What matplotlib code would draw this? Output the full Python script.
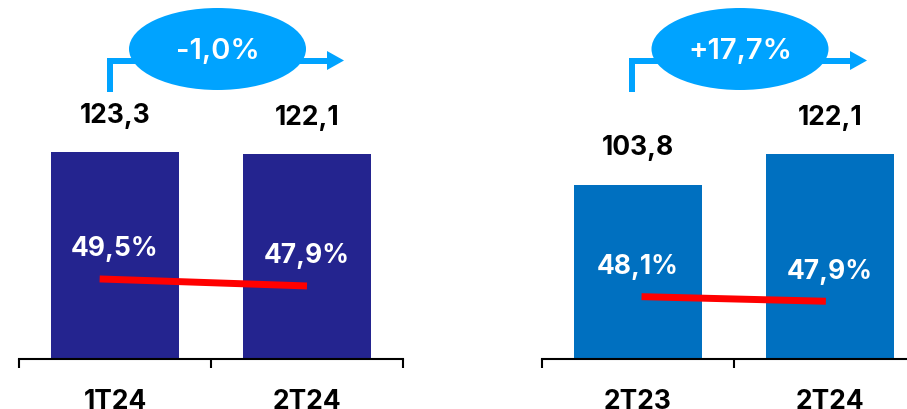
import matplotlib
matplotlib.use("Agg")
import matplotlib.pyplot as plt
from matplotlib.patches import Ellipse, Polygon
from matplotlib.lines import Line2D

# ---- data ----
left_categories = ["1T24", "2T24"]
left_values = [123.3, 122.1]
left_labels = ["123,3", "122,1"]
left_margin = [49.5, 47.9]
left_margin_labels = ["49,5%", "47,9%"]
left_change = "-1,0%"

right_categories = ["2T23", "2T24"]
right_values = [103.8, 122.1]
right_labels = ["103,8", "122,1"]
right_margin = [48.1, 47.9]
right_margin_labels = ["48,1%", "47,9%"]
right_change = "+17,7%"

# ---- style ----
W, H = 907, 410
FONT = ["Inter", "DejaVu Sans"]
NAVY = "#24248f"
BLUE = "#0070c0"
LIGHT = "#00a3ff"
RED = "#ff0000"

plt.rcParams["font.family"] = FONT

fig = plt.figure(figsize=(W / 100, H / 100), dpi=100)


def fx(px):
    return px / W


def fy(py):
    return 1 - py / H


def panel(left_px, cats, vals, labels, margins, mlabels, color, m_ylim, line_x):
    width_px = 2 * 192.0
    ax = fig.add_axes([fx(left_px), fy(360), width_px / W, 360 / H])
    x = list(range(len(cats)))
    ax.bar(x, vals, width=0.665, color=color, zorder=2)
    ax.set_xlim(-0.5, 1.5)
    ax.set_ylim(0, 360 / 1.678)
    for s in ["top", "left", "right"]:
        ax.spines[s].set_visible(False)
    ax.spines["bottom"].set_linewidth(1.5)
    ax.set_yticks([])
    ax.set_xticks(x)
    ax.set_xticklabels(cats, fontsize=19, fontweight="bold")
    ax.tick_params(axis="x", which="major", length=0, pad=21)
    ax.set_xticks([-0.5, 0.5, 1.5], minor=True)
    ax.tick_params(axis="x", which="minor", length=6.5, width=1.5, direction="out")
    for xi, v, lab in zip(x, vals, labels):
        ax.annotate(lab, (xi, v), xytext=(0, 27), textcoords="offset points",
                    ha="center", va="center", fontsize=19, fontweight="bold",
                    color="black")
    ax2 = ax.twinx()
    ax2.set_ylim(*m_ylim)
    ax2.axis("off")
    ax2.plot(line_x, margins, color=RED, lw=5, solid_capstyle="butt", zorder=3)
    for xi, m, lab in zip(x, margins, mlabels):
        ax2.annotate(lab, (xi, m), xytext=(0, 22), textcoords="offset points",
                     ha="center", va="center", fontsize=19, fontweight="bold",
                     color="white")
    return ax


panel(19, left_categories, left_values, left_labels, left_margin,
      left_margin_labels, NAVY, (31.2, 113.5), [-0.08, 1.0])
panel(541.7, right_categories, right_values, right_labels, right_margin,
      right_margin_labels, BLUE, (45.39, 61.04), [0.02, 0.98])


def change_badge(cx, vline_x, end_x, text):
    # connector line
    lw = 6 * 72 / 100
    fig.add_artist(Line2D([fx(vline_x), fx(vline_x), fx(end_x - 17)],
                          [fy(93), fy(61.5), fy(61.5)],
                          color=LIGHT, lw=lw, solid_joinstyle="miter",
                          solid_capstyle="butt"))
    fig.add_artist(Polygon([[fx(end_x - 17), fy(52)], [fx(end_x), fy(61.5)],
                            [fx(end_x - 17), fy(71)]], closed=True,
                           facecolor=LIGHT, edgecolor="none"))
    fig.add_artist(Ellipse((fx(cx), fy(50)), 177 / W, 82 / H,
                           facecolor=LIGHT, edgecolor="none"))
    fig.text(fx(cx), fy(51), text, ha="center", va="center", fontsize=21,
             fontweight="semibold", color="white")


change_badge(217.5, 110, 344, left_change)
change_badge(740, 632, 867, right_change)

fig.savefig("out.png", dpi=100)
